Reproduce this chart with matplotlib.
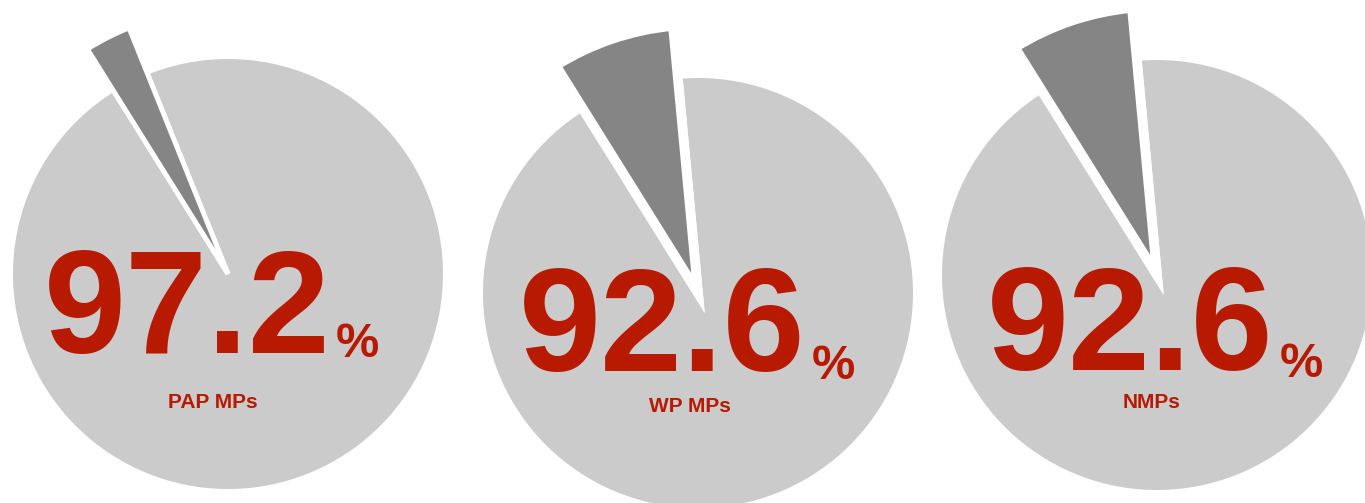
import matplotlib.pyplot as plt

# data
groups = ['PAP MPs', 'WP MPs', 'NMPs']
shares = [97.2, 92.6, 92.6]
share_text = ['97.2', '92.6', '92.6']

light = '#cbcbcb'
dark = '#858585'
red = '#b71a00'

plt.rcParams['font.family'] = ['Liberation Sans', 'DejaVu Sans']

W, H = 1365, 503
fig = plt.figure(figsize=(W / 100, H / 100), dpi=100)
ax = fig.add_axes([0, 0, 1, 1])

# layout, pixel coords from top-left
centers = [(228, 274), (698, 293), (1157, 275)]
gaps = [3.5, 7, 7]          # white edge width in points
num_pos = [(44, 353), (519, 371), (987, 370)]
pct_pos = [(336, 357), (812, 379), (1280, 377)]
lab_pos = [(213, 408), (690, 412), (1152, 408)]

for i, share in enumerate(shares):
    cx, cy = centers[i]
    r = 215 + gaps[i] * 100 / 72 / 2
    wedges, _ = ax.pie([share, 100 - share], center=(cx, H - cy), radius=r,
                       startangle=122, counterclock=True, colors=[light, dark],
                       wedgeprops=dict(edgecolor='white', linewidth=gaps[i]),
                       frame=False)
    wedges[1].set_radius(r * 1.22)

    x, y = num_pos[i]
    ax.text(x, H - y, share_text[i], fontsize=106, fontweight='bold', color=red,
            ha='left', va='baseline')
    x, y = pct_pos[i]
    ax.text(x, H - y, '%', fontsize=35, fontweight='bold', color=red,
            ha='left', va='baseline')
    x, y = lab_pos[i]
    ax.text(x, H - y, groups[i], fontsize=15, fontweight='bold', color=red,
            ha='center', va='baseline')

ax.set_xlim(0, W)
ax.set_ylim(0, H)
ax.axis('off')

fig.savefig('out.png', dpi=100)
